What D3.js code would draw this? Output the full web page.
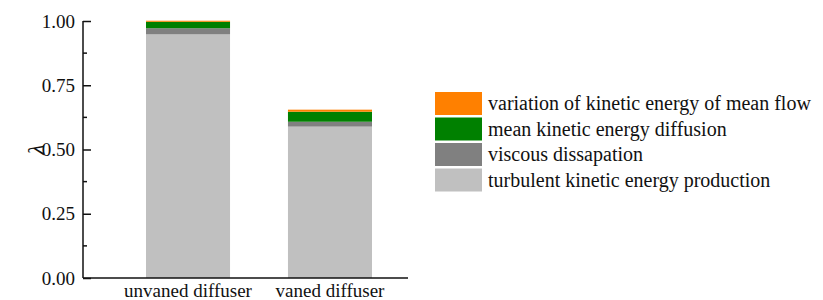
<!DOCTYPE html>
<html>
<head>
<meta charset="utf-8">
<script src="https://cdn.jsdelivr.net/npm/d3@7"></script>
<style>
  body { margin: 0; background: #fff; }
  text { font-family: 'Liberation Serif', serif; fill: #111; }
</style>
</head>
<body>
<div id="chart"></div>
<script>
// categories and stacked components
const categories = ["unvaned diffuser", "vaned diffuser"];
const seriesNames = [
    "turbulent kinetic energy production",
    "viscous dissapation",
    "mean kinetic energy diffusion",
    "variation of kinetic energy of mean flow"
];
const production = [0.948, 0.589];
const viscous = [0.024, 0.019];
const diffusion = [0.025, 0.039];
const variation = [0.004, 0.008];
const colors = ["#c0c0c0", "#808080", "#008000", "#ff8000"];
const yTicks = [0, 0.25, 0.5, 0.75, 1.0];
const minorTicks = [0.125, 0.375, 0.625, 0.875];

const W = 823, H = 300;
const margin = {top: 21, left: 83, bottom: 22};
const plotRight = 408;
const plotH = H - margin.top - margin.bottom;
const serif = "'Liberation Serif', serif";

const svg = d3.select("#chart").append("svg")
    .attr("width", W)
    .attr("height", H);

const table = categories.map((c, i) => ({
    cat: c,
    [seriesNames[0]]: production[i],
    [seriesNames[1]]: viscous[i],
    [seriesNames[2]]: diffusion[i],
    [seriesNames[3]]: variation[i]
}));
const stacked = d3.stack().keys(seriesNames)(table);

const x = d3.scaleBand()
    .domain(categories)
    .range([146, 372])
    .paddingInner(0.408)
    .paddingOuter(0);

const y = d3.scaleLinear()
    .domain([0, 1])
    .range([margin.top + plotH, margin.top]);

// bars
svg.append("g").selectAll("g")
    .data(stacked)
    .enter().append("g")
    .attr("fill", (d, i) => colors[i])
    .selectAll("rect")
    .data(d => d)
    .enter().append("rect")
    .attr("x", d => x(d.data.cat))
    .attr("width", x.bandwidth())
    .attr("y", d => y(d[1]))
    .attr("height", d => y(d[0]) - y(d[1]));

// y axis (ticks inward)
const yAxis = svg.append("g")
    .attr("transform", "translate(" + margin.left + ",0)")
    .call(d3.axisLeft(y)
        .tickValues(yTicks)
        .tickSize(-8)
        .tickPadding(8)
        .tickFormat(d3.format(".2f")));
yAxis.select(".domain").remove();
yAxis.selectAll("line").attr("stroke", "#111").attr("stroke-width", 1.5);
yAxis.selectAll("text")
    .style("font-family", serif)
    .style("font-size", "19px")
    .attr("fill", "#111");

// minor ticks
svg.append("g").selectAll("line")
    .data(minorTicks)
    .enter().append("line")
    .attr("x1", margin.left)
    .attr("x2", margin.left + 4)
    .attr("y1", d => y(d))
    .attr("y2", d => y(d))
    .attr("stroke", "#111")
    .attr("stroke-width", 1.5);

// axis lines
svg.append("line")
    .attr("x1", margin.left).attr("x2", margin.left)
    .attr("y1", y(1)).attr("y2", y(0))
    .attr("stroke", "#111").attr("stroke-width", 1.5);
svg.append("line")
    .attr("x1", margin.left).attr("x2", plotRight)
    .attr("y1", y(0)).attr("y2", y(0))
    .attr("stroke", "#111").attr("stroke-width", 1.5);

// category labels
svg.append("g").selectAll("text")
    .data(categories)
    .enter().append("text")
    .attr("x", d => x(d) + x.bandwidth() / 2)
    .attr("y", 297)
    .attr("text-anchor", "middle")
    .style("font-family", serif)
    .style("font-size", "19px")
    .text(d => d);

// y label
svg.append("text")
    .attr("transform", "translate(36," + y(0.5) + ") rotate(-90)")
    .attr("text-anchor", "middle")
    .attr("dy", "0.35em")
    .style("font-family", serif)
    .style("font-size", "24px")
    .style("font-style", "italic")
    .text("λ");

// legend
const legend = svg.append("g")
    .attr("transform", "translate(435,92)");
const legendOrder = [3, 2, 1, 0];
legendOrder.forEach((k, i) => {
    const row = legend.append("g").attr("transform", "translate(0," + (i * 25.5) + ")");
    row.append("rect")
        .attr("width", 47)
        .attr("height", 23)
        .attr("fill", colors[k]);
    row.append("text")
        .attr("x", 53)
        .attr("y", 18)
        .style("font-family", serif)
        .style("font-size", "20px")
        .text(seriesNames[k]);
});
</script>
</body>
</html>
